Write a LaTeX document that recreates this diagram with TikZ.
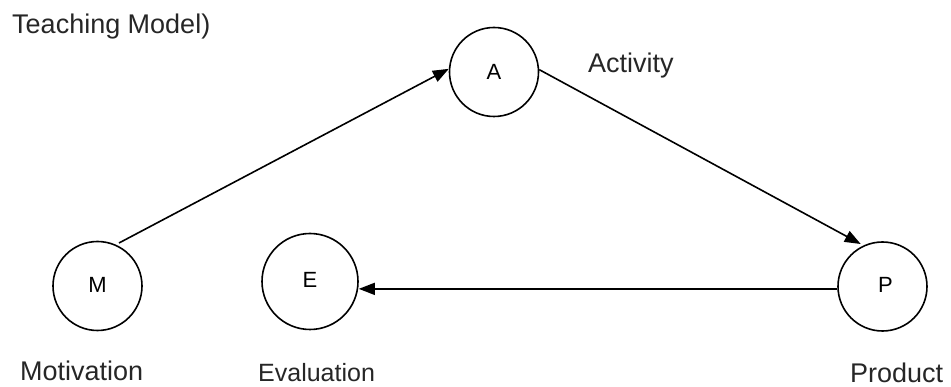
\documentclass[tikz,border=0pt]{standalone}
\usepackage{fontspec}
\setmainfont{Liberation Sans}
\usetikzlibrary{arrows.meta}
\begin{document}
\begin{tikzpicture}[x=1pt,y=-1pt,
  state/.style={circle,draw,line width=1.6pt,inner sep=0pt,minimum size=89pt,font=\fontsize{22}{26}\selectfont},
  lbl/.style={anchor=base west,inner sep=0pt,font=\fontsize{27}{32}\selectfont,text=black!85},
  conn/.style={line width=1.6pt,-{Triangle[length=16pt,width=12pt]}}]
\useasboundingbox (0,0) rectangle (951,387);
\node[state] (A) at (494,72) {A};
\node[state] (M) at (97.5,286) {\raisebox{3pt}{M}};
\node[state,minimum size=96pt] (E) at (310,281.5) {\raisebox{3pt}{E}};
\node[state] (P) at (882.5,286.5) {\raisebox{4pt}{\hspace*{6pt}P}};
\draw[conn,shorten <=3.5pt] (M.66) -- (A.176);
\draw[conn,shorten >=3pt] (A.3) -- (P.115);
\draw[conn] (P.183) -- (P.183 -| E.east);
\node[lbl] (t) at (12,34) {Teaching Model)};
\node[lbl] (act) at (588,73) {Activity};
\node[lbl] (mot) at (20,381) {Motivation};
\node[lbl,font=\fontsize{25}{30}\selectfont] (ev) at (258,382) {Evaluation};
\node[lbl] (pr) at (850,383) {Product};
\end{tikzpicture}
\end{document}
